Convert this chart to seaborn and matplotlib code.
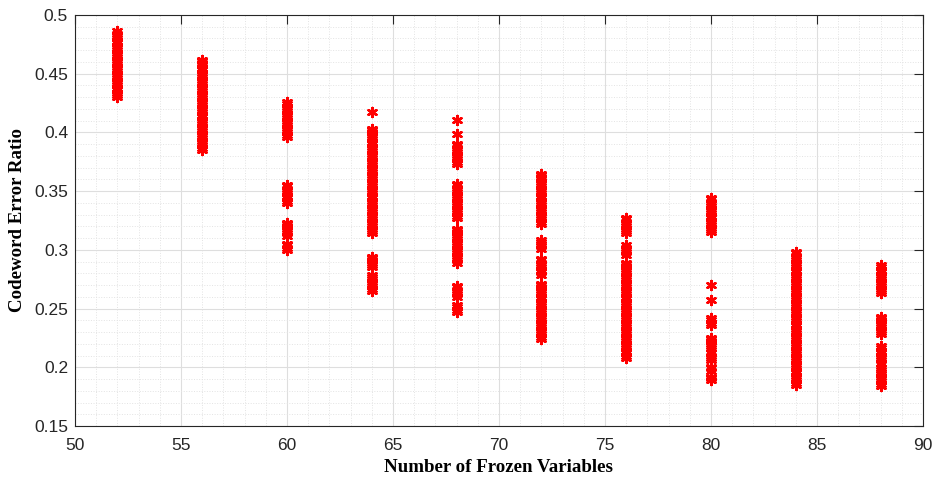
import matplotlib
matplotlib.use("Agg")
import matplotlib.pyplot as plt
import seaborn as sns
import pandas as pd
from matplotlib.ticker import MultipleLocator

# Number of frozen variables (x positions of each column)
frozen_vars = [52, 56, 60, 64, 68, 72, 76, 80, 84, 88]

# Codeword error ratio values observed at each x
c52 = [0.430, 0.432, 0.434, 0.436, 0.438, 0.440, 0.442, 0.444, 0.446, 0.448,
       0.450, 0.452, 0.454, 0.456, 0.458, 0.460, 0.462, 0.464, 0.466, 0.468,
       0.470, 0.472, 0.474, 0.476, 0.478, 0.480, 0.482, 0.484, 0.486]
c56 = [0.385, 0.387, 0.389, 0.391, 0.393, 0.395, 0.397, 0.399, 0.401, 0.403,
       0.405, 0.407, 0.409, 0.411, 0.413, 0.415, 0.417, 0.419, 0.421, 0.423,
       0.425, 0.427, 0.429, 0.431, 0.433, 0.435, 0.437, 0.439, 0.441, 0.443,
       0.445, 0.447, 0.449, 0.451, 0.453, 0.455, 0.457, 0.459, 0.461, 0.462]
c60 = [0.300, 0.302, 0.304, 0.305,
       0.312, 0.314, 0.316, 0.318, 0.320, 0.322, 0.323,
       0.340, 0.342, 0.344, 0.346, 0.348, 0.350, 0.352, 0.354, 0.355,
       0.396, 0.398, 0.400, 0.402, 0.404, 0.406, 0.408, 0.410, 0.412, 0.414,
       0.416, 0.418, 0.420, 0.422, 0.424, 0.426]
c64 = [0.265, 0.267, 0.269, 0.271, 0.273, 0.275, 0.277, 0.279,
       0.285, 0.287, 0.289, 0.291, 0.293, 0.294,
       0.314, 0.316, 0.318, 0.320, 0.322, 0.324, 0.326, 0.328, 0.330, 0.332,
       0.334, 0.336, 0.338, 0.340, 0.342, 0.344, 0.346, 0.348, 0.350, 0.352,
       0.354, 0.356, 0.358, 0.360, 0.362, 0.364, 0.366, 0.368, 0.370, 0.372,
       0.374, 0.376, 0.378, 0.380, 0.382, 0.384, 0.386, 0.388, 0.390, 0.392,
       0.394, 0.396, 0.398, 0.400, 0.402, 0.403,
       0.417]
c68 = [0.247, 0.249, 0.251, 0.253,
       0.260, 0.262, 0.264, 0.266, 0.268, 0.269,
       0.289, 0.291, 0.293, 0.295, 0.297, 0.299, 0.301, 0.303, 0.305, 0.307,
       0.309, 0.311, 0.313, 0.315, 0.317, 0.318,
       0.327, 0.329, 0.331, 0.333, 0.335, 0.337, 0.339, 0.341, 0.343, 0.345,
       0.347, 0.349, 0.351, 0.353, 0.355, 0.356,
       0.373, 0.375, 0.377, 0.379, 0.381, 0.383, 0.385, 0.387, 0.389, 0.390,
       0.399, 0.411]
c72 = [0.224, 0.226, 0.228, 0.230, 0.232, 0.234, 0.236, 0.238, 0.240, 0.242,
       0.244, 0.246, 0.248, 0.250, 0.252, 0.254, 0.256, 0.258, 0.260, 0.262,
       0.264, 0.266, 0.268, 0.270, 0.271,
       0.279, 0.281, 0.283, 0.285, 0.287, 0.289, 0.291, 0.292,
       0.301, 0.303, 0.305, 0.307, 0.308,
       0.322, 0.324, 0.326, 0.328, 0.330, 0.332, 0.334, 0.336, 0.338, 0.340,
       0.342, 0.344, 0.346, 0.348, 0.350, 0.352, 0.354, 0.356, 0.358, 0.360,
       0.362, 0.364, 0.365]
c76 = [0.208, 0.210, 0.212, 0.214, 0.216, 0.218, 0.220, 0.222, 0.224, 0.226,
       0.228, 0.230, 0.232, 0.234, 0.236, 0.238, 0.240, 0.242, 0.244, 0.246,
       0.248, 0.250, 0.252, 0.254, 0.256, 0.258, 0.260, 0.262, 0.264, 0.266,
       0.268, 0.270, 0.272, 0.274, 0.276, 0.278, 0.280, 0.282, 0.284, 0.286,
       0.288, 0.289,
       0.296, 0.298, 0.300, 0.302, 0.304,
       0.314, 0.316, 0.318, 0.320, 0.322, 0.324, 0.326, 0.327]
c80 = [0.189, 0.191, 0.192, 0.197, 0.199, 0.200, 0.206, 0.208, 0.210, 0.212,
       0.216, 0.218, 0.220, 0.222, 0.224, 0.225, 0.236, 0.238, 0.240, 0.242,
       0.257, 0.270,
       0.315, 0.317, 0.319, 0.321, 0.323, 0.325, 0.327, 0.329, 0.331, 0.333,
       0.335, 0.337, 0.339, 0.341, 0.343, 0.344]
c84 = [0.185, 0.187, 0.189, 0.191, 0.193, 0.195, 0.197, 0.199, 0.201, 0.203,
       0.205, 0.207, 0.209, 0.211, 0.213, 0.215, 0.217, 0.219, 0.221, 0.223,
       0.225, 0.227, 0.229, 0.231, 0.233, 0.235, 0.237, 0.239, 0.241, 0.243,
       0.245, 0.247, 0.249, 0.251, 0.253, 0.255, 0.257, 0.259, 0.261, 0.263,
       0.265, 0.267, 0.269, 0.271, 0.273, 0.275, 0.277, 0.279, 0.281, 0.283,
       0.285, 0.287, 0.289, 0.291, 0.293, 0.295, 0.297, 0.298]
c88 = [0.184, 0.186, 0.188, 0.190, 0.192, 0.194, 0.196, 0.198, 0.199,
       0.204, 0.206, 0.208, 0.210, 0.212, 0.214, 0.216, 0.218,
       0.228, 0.230, 0.232, 0.234, 0.236, 0.238, 0.240, 0.242, 0.243,
       0.263, 0.265, 0.267, 0.269, 0.271, 0.273, 0.275, 0.277, 0.279, 0.281,
       0.283, 0.285, 0.287]

columns = [c52, c56, c60, c64, c68, c72, c76, c80, c84, c88]

x_ticks = [50, 55, 60, 65, 70, 75, 80, 85, 90]
y_ticks = [0.15, 0.2, 0.25, 0.3, 0.35, 0.4, 0.45, 0.5]
y_ticklabels = ["0.15", "0.2", "0.25", "0.3", "0.35", "0.4", "0.45", "0.5"]

rows = []
for xv, vals in zip(frozen_vars, columns):
    for v in vals:
        rows.append((xv, v))
df = pd.DataFrame(rows, columns=["frozen", "cer"])

sns.set_style("white")
plt.rcParams["font.family"] = ["Liberation Sans", "DejaVu Sans"]

fig = plt.figure(figsize=(9.36, 4.8), dpi=100)
ax = fig.add_axes([75 / 936, 1 - 426 / 480, 848 / 936, 411 / 480])

sns.scatterplot(data=df, x="frozen", y="cer", ax=ax, color="#ff0000",
                marker=(6, 2, 0), s=42, linewidth=1.8, edgecolor="#ff0000",
                legend=False, zorder=3)

ax.set_xlim(50, 90)
ax.set_ylim(0.15, 0.5)
ax.set_xticks(x_ticks)
ax.set_xticklabels([str(t) for t in x_ticks])
ax.set_yticks(y_ticks)
ax.set_yticklabels(y_ticklabels)
ax.xaxis.set_minor_locator(MultipleLocator(1))
ax.yaxis.set_minor_locator(MultipleLocator(0.01))

ax.grid(which="major", color="#dedede", linestyle="-", linewidth=0.8, zorder=0)
ax.grid(which="minor", color="#e3e3e3", linestyle=":", linewidth=0.7, zorder=0)
ax.set_axisbelow(True)

ax.tick_params(which="major", direction="in", length=6.5, width=0.8,
               color="#262626", top=True, right=True, labelsize=12.5,
               labelcolor="#262626")
ax.tick_params(axis="x", which="major", pad=9)
ax.tick_params(axis="y", which="major", pad=5)
ax.tick_params(which="minor", length=0)

for side in ["left", "bottom", "top", "right"]:
    ax.spines[side].set_visible(True)
    ax.spines[side].set_color("#262626")
    ax.spines[side].set_linewidth(0.8)

ax.set_xlabel("Number of Frozen Variables", family=["Liberation Serif", "DejaVu Serif"],
              fontweight="bold", fontsize=13.6, color="black", labelpad=4)
ax.set_ylabel("Codeword Error Ratio", family=["Liberation Serif", "DejaVu Serif"],
              fontweight="bold", fontsize=13.6, color="black", labelpad=6)

fig.savefig("out.png", dpi=100)
